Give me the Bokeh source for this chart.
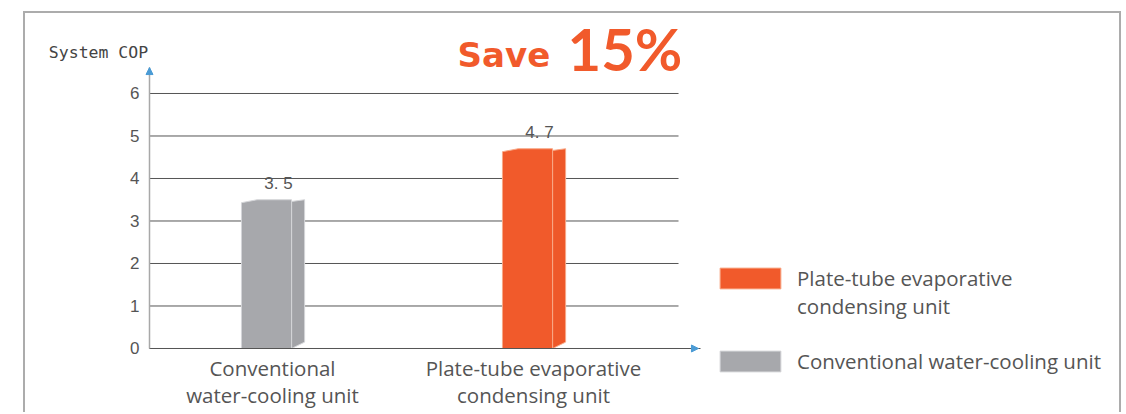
from bokeh.plotting import figure
from bokeh.models import Range1d, FixedTicker, Label, Arrow, NormalHead, Legend, LegendItem
from bokeh.core.properties import value
from bokeh.embed import file_html
from bokeh.resources import INLINE

# ---- data ----
categories = ["Conventional\nwater-cooling unit", "Plate-tube evaporative\ncondensing unit"]
cop_values = [3.5, 4.7]
value_labels = ["3. 5", "4. 7"]
legend_labels = ["Plate-tube evaporative\ncondensing unit", "Conventional water-cooling unit"]
legend_order = [1, 0]
y_ticks = [0, 1, 2, 3, 4, 5, 6]
axis_title = "System COP"
headline_word = "Save"
headline_value = "15%"

# ---- styles / layout ----
front_colors = ["#A7A8AC", "#F15A2B"]
side_colors = ["#A2A3A7", "#EE5829"]
edge_colors = ["#D4D5D8", "#F8A887"]
text_grey = "#555555"
arrow_blue = "#4A9BD5"
cat_x = [i + 1 for i in range(len(categories))]
FX0, FX1 = 0.0536, 4.2605      # frame (whole canvas)
FY0, FY1 = -1.553, 7.882
AX0, AX1 = 0.5287, 2.64        # x axis line extent
AY1 = 6.61                     # y axis line top
GRID_END = 2.5556

p = figure(width=1098, height=401, x_range=Range1d(FX0, FX1), y_range=Range1d(FY0, FY1),
           output_backend="svg", toolbar_location=None,
           min_border_left=0, min_border_right=0, min_border_top=0, min_border_bottom=0)
p.outline_line_color = None
p.xgrid.visible = False
p.ygrid.visible = False
p.styles = {"margin-left": "23px", "margin-top": "11px",
            "border": "2px solid #acacac", "border-bottom": "none"}

# grid lines
p.segment(x0=[AX0] * len(y_ticks), y0=y_ticks, x1=[GRID_END] * len(y_ticks), y1=y_ticks,
          line_color="#555555", line_width=1)

# y axis
ya = p.yaxis[0]
ya.fixed_location = AX0
ya.bounds = (0, AY1)
ya.ticker = FixedTicker(ticks=y_ticks)
ya.axis_line_color = "#a8a8a8"
ya.axis_line_width = 1.5
ya.major_tick_line_color = None
ya.minor_tick_line_color = None
ya.major_label_standoff = 4
ya.major_label_text_font = "Liberation Sans"
ya.major_label_text_font_size = "17px"
ya.major_label_text_color = text_grey

# x axis
xa = p.xaxis[0]
xa.fixed_location = 0
xa.bounds = (AX0, AX1)
xa.ticker = FixedTicker(ticks=cat_x)
xa.major_label_overrides = {c: lab for c, lab in zip(cat_x, categories)}
xa.axis_line_color = "#555555"
xa.axis_line_width = 1
xa.major_tick_line_color = None
xa.minor_tick_line_color = None
xa.major_tick_out = 0
xa.major_label_standoff = 6
xa.major_label_text_font = "Open Sans"
xa.major_label_text_font_size = "20.5px"
xa.major_label_text_color = text_grey
xa.major_label_text_line_height = 0.93

# axis arrows
p.add_layout(Arrow(end=NormalHead(size=7, fill_color=arrow_blue, line_color=arrow_blue),
                   x_start=AX0, y_start=AY1 - 0.3, x_end=AX0, y_end=AY1, line_alpha=0))
p.add_layout(Arrow(end=NormalHead(size=7, fill_color=arrow_blue, line_color=arrow_blue),
                   x_start=AX1 - 0.1, y_start=0, x_end=AX1 - 0.008, y_end=0, line_alpha=0))

# pseudo-3D bars
fl, fr, sw = -0.119, 0.073, 0.05
front_xs, front_ys, side_xs, side_ys = [], [], [], []
for c, v in zip(cat_x, cop_values):
    front_xs.append([c + fl, c + fl, c + fl + 0.06, c + fr, c + fr])
    front_ys.append([0, v - 0.07, v, v, 0])
    side_xs.append([c + fr, c + fr, c + fr + sw, c + fr + sw])
    side_ys.append([0, v - 0.04, v, 0.15])

side_r = p.patches(xs=side_xs, ys=side_ys, fill_color=side_colors, line_color=edge_colors, line_width=1)
front_r = p.patches(xs=front_xs, ys=front_ys, fill_color=front_colors, line_color=edge_colors, line_width=1)

# value labels
p.text(x=[c + 0.023 for c in cat_x], y=cop_values, text=value_labels,
       text_align="center", text_baseline="bottom", y_offset=-7,
       text_font=value("Liberation Sans"), text_font_size=value("17px"), text_color=text_grey)

# titles
p.add_layout(Label(x=0.3333, y=6.965, text=axis_title, text_align="center", text_baseline="middle",
                   text_font="DejaVu Sans Mono", text_font_size="16.5px", text_color="#444444"))
p.add_layout(Label(x=1.709, y=6.906, text=headline_word, text_align="left", text_baseline="middle",
                   text_font="DejaVu Sans", text_font_style="bold", text_font_size="34px",
                   text_color="#F15A2B"))
p.add_layout(Label(x=2.1305, y=7.06, text=headline_value, text_align="left", text_baseline="middle",
                   text_font="Lato", text_font_style="bold", text_font_size="58px",
                   text_color="#F15A2B"))

# legend (multi-line labels get a leading blank line so the swatch sits at the first line)
def legend_text(s):
    return "\n" + s if "\n" in s else s

items = [LegendItem(label=legend_text(legend_labels[k]), renderers=[front_r], index=idx)
         for k, idx in enumerate(legend_order)]
legend = Legend(items=items, location=(687, 39), glyph_width=76, glyph_height=26,
                label_standoff=9, spacing=27, padding=0, margin=0,
                border_line_color=None, background_fill_alpha=0,
                label_text_font="Open Sans", label_text_font_size="20.5px",
                label_text_color=text_grey, label_text_line_height=0.93)
p.add_layout(legend)

open("out.html", "w").write(file_html(p, INLINE))
